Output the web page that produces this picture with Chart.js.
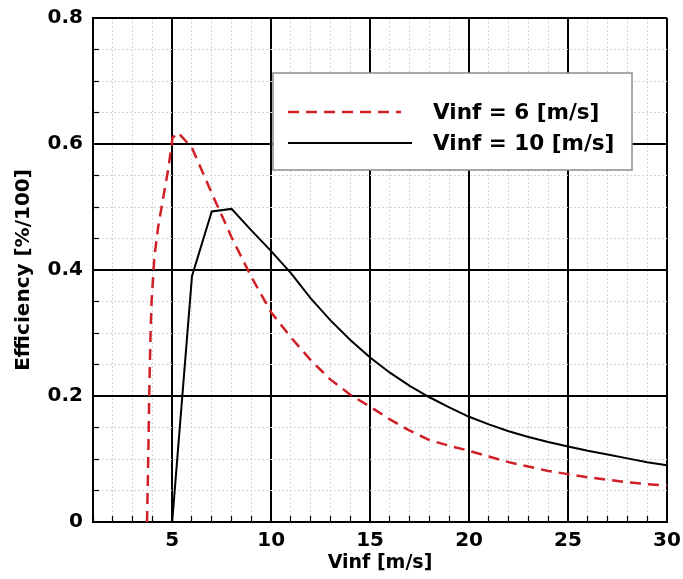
<!DOCTYPE html>
<html>
<head>
<meta charset="utf-8">
<script src="https://cdn.jsdelivr.net/npm/chart.js@4/dist/chart.umd.min.js"></script>
<style>
html,body{margin:0;padding:0;background:#fff}
canvas{display:block}
</style>
</head>
<body>
<canvas id="c" width="683" height="579"></canvas>
<script>
// ---- data ----
const seriesLabels = ['Vinf = 6 [m/s]', 'Vinf = 10 [m/s]'];
const xAxisTitle = 'Vinf [m/s]';
const yAxisTitle = 'Efficiency [%/100]';

const vinf6X = [3.73, 3.79, 3.84, 3.90, 3.96, 4.1, 4.3, 4.55, 4.8, 5.02, 5.3, 6, 7, 8, 9, 10, 11, 12, 13, 14, 15, 16, 17, 18, 19, 20, 21, 22, 23, 24, 25, 26, 27, 28, 29, 30];
const vinf6Y = [0, 0.10, 0.20, 0.29, 0.35, 0.42, 0.47, 0.515, 0.56, 0.61, 0.618, 0.594, 0.522, 0.452, 0.389, 0.333, 0.293, 0.257, 0.226, 0.202, 0.183, 0.163, 0.145, 0.130, 0.121, 0.113, 0.104, 0.095, 0.088, 0.081, 0.076, 0.071, 0.067, 0.063, 0.060, 0.058];

const vinf10X = [5, 6, 7, 8, 9, 10, 11, 12, 13, 14, 15, 16, 17, 18, 19, 20, 21, 22, 23, 24, 25, 26, 27, 28, 29, 30];
const vinf10Y = [0, 0.39, 0.493, 0.497, 0.463, 0.43, 0.395, 0.355, 0.320, 0.289, 0.261, 0.237, 0.216, 0.198, 0.182, 0.167, 0.155, 0.144, 0.135, 0.127, 0.120, 0.113, 0.107, 0.101, 0.095, 0.090];

const xTickLabels = [5, 10, 15, 20, 25, 30];
const yTickLabels = [0, 0.2, 0.4, 0.6, 0.8];

// ---- styling ----
const FONT = "'DejaVu Sans', 'Liberation Sans', Arial, sans-serif";
const RED = '#d11f26';

const isMajorX = v => xTickLabels.some(t => Math.abs(t - v) < 1e-6);
const isMajorY = v => yTickLabels.some(t => Math.abs(t - v) < 1e-6);

function gridFor(isMajor) {
  return {
    color: c => (c.tick && isMajor(c.tick.value)) ? '#000' : '#d6d6d6',
    lineWidth: c => (c.tick && isMajor(c.tick.value)) ? 2 : 1,
    tickColor: '#000',
    tickWidth: 1.2,
    tickLength: -6,
    drawTicks: true
  };
}
function borderFor(isMajor) {
  return {
    display: true,
    color: '#000',
    width: 2,
    dash: c => (c.tick && !isMajor(c.tick.value)) ? [2, 2] : []
  };
}

const legendBoxPlugin = {
  id: 'legendBox',
  afterDatasetsDraw(chart) {
    const {ctx, chartArea} = chart;
    const left = chartArea.left + 180, top = chartArea.top + 55;
    const w = 359, h = 97;
    ctx.save();
    ctx.fillStyle = '#fff';
    ctx.fillRect(left, top, w, h);
    ctx.strokeStyle = '#8c8c8c';
    ctx.lineWidth = 1.5;
    ctx.strokeRect(left, top, w, h);
    chart.data.datasets.forEach((ds, i) => {
      const y = top + 39 + i * 31;
      ctx.beginPath();
      ctx.setLineDash(ds.borderDash || []);
      ctx.strokeStyle = ds.borderColor;
      ctx.lineWidth = ds.borderWidth;
      ctx.moveTo(left + 15, y);
      ctx.lineTo(left + (i === 0 ? 128 : 139), y);
      ctx.stroke();
      ctx.setLineDash([]);
      ctx.fillStyle = '#000';
      ctx.font = 'bold 21.5px ' + FONT;
      ctx.textBaseline = 'alphabetic';
      ctx.textAlign = 'left';
      ctx.fillText(ds.label, left + 160, y + 7);
    });
    ctx.restore();
  }
};

const toPoints = (xs, ys) => xs.map((x, i) => ({x, y: ys[i]}));

new Chart(document.getElementById('c'), {
  type: 'scatter',
  data: {
    datasets: [
      {
        label: seriesLabels[0],
        data: toPoints(vinf6X, vinf6Y),
        showLine: true,
        borderColor: RED,
        backgroundColor: RED,
        borderWidth: 2.5,
        borderDash: [11, 7],
        pointRadius: 0,
        tension: 0
      },
      {
        label: seriesLabels[1],
        data: toPoints(vinf10X, vinf10Y),
        showLine: true,
        borderColor: '#000',
        backgroundColor: '#000',
        borderWidth: 2,
        pointRadius: 0,
        tension: 0
      }
    ]
  },
  options: {
    responsive: false,
    animation: false,
    devicePixelRatio: 1,
    layout: {padding: {top: 18, right: 16, bottom: 0, left: 0}},
    plugins: {legend: {display: false}, tooltip: {enabled: false}},
    scales: {
      x: {
        type: 'linear',
        min: 1, max: 30,
        afterFit: s => { s.height = 57; s.paddingLeft = 0; s.paddingRight = 0; },
        ticks: {
          stepSize: 1,
          autoSkip: false,
          maxRotation: 0,
          padding: 13,
          color: '#000',
          font: {family: FONT, size: 20, weight: 'bold'},
          callback: v => isMajorX(v) ? String(v) : ''
        },
        grid: gridFor(isMajorX),
        border: borderFor(isMajorX),
        title: {
          display: true, text: xAxisTitle, color: '#000',
          font: {family: FONT, size: 19, weight: 'bold'},
          padding: {top: 0, bottom: 5}
        }
      },
      y: {
        type: 'linear',
        min: 0, max: 0.8,
        afterFit: s => { s.width = 93; s.paddingTop = 0; s.paddingBottom = 0; },
        ticks: {
          stepSize: 0.05,
          autoSkip: false,
          padding: 16,
          color: '#000',
          font: {family: FONT, size: 20, weight: 'bold'},
          callback: v => isMajorY(v) ? (Math.abs(v) < 1e-9 ? '0' : String(Math.round(v * 10) / 10)) : ''
        },
        grid: gridFor(isMajorY),
        border: borderFor(isMajorY),
        title: {
          display: true, text: yAxisTitle, color: '#000',
          font: {family: FONT, size: 20, weight: 'bold'},
          padding: {top: 12, bottom: 0}
        }
      }
    }
  },
  plugins: [legendBoxPlugin]
});
</script>
</body>
</html>
